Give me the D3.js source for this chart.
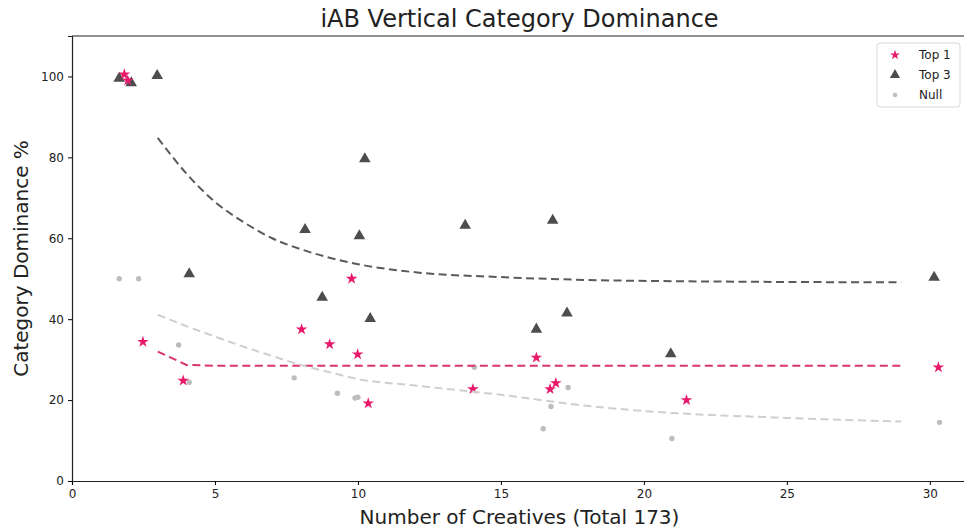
<!DOCTYPE html>
<html>
<head>
<meta charset="utf-8">
<script src="https://cdn.jsdelivr.net/npm/d3@7"></script>
<style>
  body { margin: 0; background: #fff; }
  text { font-family: "DejaVu Sans", sans-serif; fill: #222; }
</style>
</head>
<body>
<div id="vis"></div>
<script>
// Scatter data
const top1X = [1.83, 1.95, 2.48, 3.89, 8.03, 9.01, 9.78, 9.99, 10.36, 14.02, 16.24, 16.72, 16.92, 21.49, 30.3]
const top1Y = [100.5, 99.0, 34.4, 24.8, 37.5, 33.8, 50.0, 31.3, 19.2, 22.7, 30.5, 22.7, 24.2, 20.0, 28.1]

const top3X = [1.65, 2.07, 2.98, 4.1, 8.15, 8.75, 10.05, 10.24, 10.43, 13.75, 16.24, 16.81, 17.31, 20.94, 30.15]
const top3Y = [99.5, 98.4, 100.2, 51.2, 62.1, 45.4, 60.6, 79.6, 40.1, 63.2, 37.5, 64.4, 41.5, 31.4, 50.3]

const nullX = [1.65, 2.33, 3.73, 4.1, 7.77, 9.28, 9.9, 10.0, 14.07, 16.48, 16.75, 17.35, 20.98, 30.34]
const nullY = [50.0, 50.0, 33.6, 24.4, 25.5, 21.7, 20.5, 20.7, 28.1, 12.9, 18.4, 23.1, 10.5, 14.5]

// Trend lines
const trend3X = [3, 4, 5, 6, 7, 8, 10, 12, 15, 18, 21, 25, 29]
const trend3Y = [84.8, 76.0, 69.0, 64.0, 60.0, 57.3, 53.6, 51.6, 50.4, 49.7, 49.4, 49.2, 49.1]

const trend1X = [3, 4, 5, 29]
const trend1Y = [32.0, 28.7, 28.5, 28.5]

const trendNX = [3, 4, 5, 6, 7, 8, 9, 10, 12, 15, 18, 20, 25, 29]
const trendNY = [41.1, 38.3, 35.7, 33.2, 30.9, 28.7, 26.9, 25.2, 23.6, 21.3, 18.6, 17.3, 15.6, 14.7]

const xTicks = [0, 5, 10, 15, 20, 25, 30]
const yTicks = [0, 20, 40, 60, 80, 100]

const seriesNames = ['Top 1', 'Top 3', 'Null']

const zip = (xs, ys) => xs.map((x, i) => ({ x: x, y: ys[i] }))

const width = 964, height = 529
const margin = { left: 72, right: -3, top: 36, bottom: 48 }

const pink = '#e8196b'
const dark = '#4d4d4d'
const grey = '#bdbdbd'

const svg = d3.select('#vis').append('svg')
  .attr('width', width)
  .attr('height', height)

const xScale = d3.scaleLinear()
  .domain([0, 31.3])
  .range([margin.left, width - margin.right])

const yScale = d3.scaleLinear()
  .domain([0, 110])
  .range([height - margin.bottom, margin.top])

// Axes
const xAxis = svg.append('g')
  .attr('transform', `translate(0,${height - margin.bottom})`)
  .call(d3.axisBottom(xScale).tickValues(xTicks).tickSize(4).tickPadding(4))
xAxis.select('.domain').attr('stroke', '#222').attr('stroke-width', 1.2)
xAxis.selectAll('text').attr('font-size', 12)

const yAxis = svg.append('g')
  .attr('transform', `translate(${margin.left},0)`)
  .call(d3.axisLeft(yScale).tickValues(yTicks).tickSize(4).tickPadding(4))
yAxis.select('.domain').attr('stroke', '#222').attr('stroke-width', 1.2)
yAxis.selectAll('text').attr('font-size', 12)

// Top spine
svg.append('line')
  .attr('x1', margin.left)
  .attr('x2', width)
  .attr('y1', margin.top)
  .attr('y2', margin.top)
  .attr('stroke', '#222')
  .attr('stroke-width', 1.2)

// Title and labels
svg.append('text')
  .attr('x', (margin.left + width - margin.right) / 2)
  .attr('y', 27)
  .attr('text-anchor', 'middle')
  .attr('font-size', 24)
  .text('iAB Vertical Category Dominance')

svg.append('text')
  .attr('x', (margin.left + width - margin.right) / 2)
  .attr('y', 524)
  .attr('text-anchor', 'middle')
  .attr('font-size', 20)
  .text('Number of Creatives (Total 173)')

svg.append('text')
  .attr('transform', `translate(28,${(margin.top + height - margin.bottom) / 2}) rotate(-90)`)
  .attr('text-anchor', 'middle')
  .attr('font-size', 20)
  .text('Category Dominance %')

// Points
const plot = svg.append('g')

plot.selectAll('.null-pt')
  .data(zip(nullX, nullY))
  .enter()
  .append('circle')
  .attr('class', 'null-pt')
  .attr('cx', d => xScale(d.x))
  .attr('cy', d => yScale(d.y))
  .attr('r', 2.7)
  .attr('fill', grey)

const triangle = d3.symbol().type(d3.symbolTriangle).size(58)
plot.selectAll('.top3-pt')
  .data(zip(top3X, top3Y))
  .enter()
  .append('path')
  .attr('class', 'top3-pt')
  .attr('d', triangle)
  .attr('transform', d => `translate(${xScale(d.x)},${yScale(d.y)})`)
  .attr('fill', dark)

const star = d3.symbol().type(d3.symbolStar).size(42)
plot.selectAll('.top1-pt')
  .data(zip(top1X, top1Y))
  .enter()
  .append('path')
  .attr('class', 'top1-pt')
  .attr('d', star)
  .attr('transform', d => `translate(${xScale(d.x)},${yScale(d.y)})`)
  .attr('fill', pink)

// Trend lines
const line = d3.line()
  .x(d => xScale(d.x))
  .y(d => yScale(d.y))

const trends = [
  { pts: zip(trend3X, trend3Y), color: '#5a5a5a', curve: d3.curveMonotoneX },
  { pts: zip(trend1X, trend1Y), color: '#d9346f', curve: d3.curveLinear },
  { pts: zip(trendNX, trendNY), color: '#cfcfcf', curve: d3.curveMonotoneX }
]

trends.forEach(t => {
  plot.append('path')
    .datum(t.pts)
    .attr('d', line.curve(t.curve))
    .attr('fill', 'none')
    .attr('stroke', t.color)
    .attr('stroke-width', 2)
    .attr('stroke-dasharray', '8,4.5')
})

// Legend
const legend = svg.append('g').attr('transform', 'translate(877,43)')
legend.append('rect')
  .attr('width', 83)
  .attr('height', 64)
  .attr('rx', 3)
  .attr('fill', '#fff')
  .attr('stroke', '#d8d8d8')

const legendSymbols = [
  d3.symbol().type(d3.symbolStar).size(30)(),
  d3.symbol().type(d3.symbolTriangle).size(45)(),
  d3.symbol().type(d3.symbolCircle).size(16)()
]
const legendColors = [pink, dark, grey]

seriesNames.forEach((name, i) => {
  const row = legend.append('g').attr('transform', `translate(18,${12 + i * 20})`)
  row.append('path')
    .attr('d', legendSymbols[i])
    .attr('fill', legendColors[i])
  row.append('text')
    .attr('x', 24)
    .attr('y', 4)
    .attr('font-size', 12)
    .text(name)
})
</script>
</body>
</html>
